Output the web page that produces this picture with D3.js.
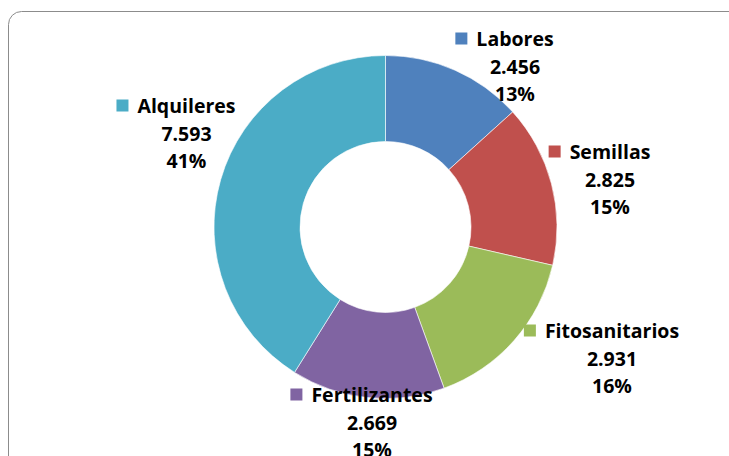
<!DOCTYPE html>
<html><head><meta charset="utf-8">
<script src="https://cdn.jsdelivr.net/npm/d3@7"></script>
<style>html,body{margin:0;padding:0;background:#fff;overflow:hidden}</style>
</head><body>
<svg id="c" width="729" height="456"></svg>
<script>
const categories = ["Labores","Semillas","Fitosanitarios","Fertilizantes","Alquileres"];
const values = [2.456, 2.825, 2.931, 2.669, 7.593];
const valueLabels = ["2.456","2.825","2.931","2.669","7.593"];
const percentLabels = ["13%","15%","16%","15%","41%"];
const colors = ["#4F81BD","#C0504D","#9BBB59","#8064A2","#4BACC6"];
// label block centres (x of text centre, baseline of first line)
const labelPos = [[515,46],[610,159],[612,338],[372,402],[186.5,113]];

const svg = d3.select("#c");
svg.append("rect").attr("x",8.5).attr("y",11.5).attr("width",760).attr("height",470)
  .attr("rx",13).attr("fill","#fff").attr("stroke","#8c8c8c").attr("stroke-width",1);

const cx = 385.5, cy = 227, R = 171.5, r = 85.5;
const data = categories.map((c,i)=>({c, v: values[i], i}));
const pie = d3.pie().value(d=>d.v).sort(null);
const arc = d3.arc().innerRadius(r).outerRadius(R);
const color = d3.scaleOrdinal().domain(categories).range(colors);
const g = svg.append("g").attr("transform",`translate(${cx},${cy})`);
g.selectAll("path").data(pie(data)).join("path")
  .attr("d",arc).attr("fill",d=>color(d.data.c))
  .attr("stroke","#fff").attr("stroke-width",0.6);

const lh = 27.5;
const font = "'Open Sans', Lato, sans-serif";
const lg = svg.append("g");
data.forEach((d,i)=>{
  const [x,y] = labelPos[i];
  const t = lg.append("text").attr("x",x).attr("y",y).attr("text-anchor","middle")
    .attr("font-family",font).attr("font-weight","bold").attr("font-size",19.5).attr("fill","#000");
  const lines = [d.c, valueLabels[i], percentLabels[i]];
  lines.forEach((s,k)=>{
    t.append("tspan").attr("x",x).attr("y",y+k*lh).text(s);
  });
  const w = t.select("tspan").node().getComputedTextLength();
  lg.append("rect").attr("x",x-w/2-21).attr("y",y-13.5).attr("width",12).attr("height",12)
    .attr("fill",color(d.c));
});
</script>
</body></html>
